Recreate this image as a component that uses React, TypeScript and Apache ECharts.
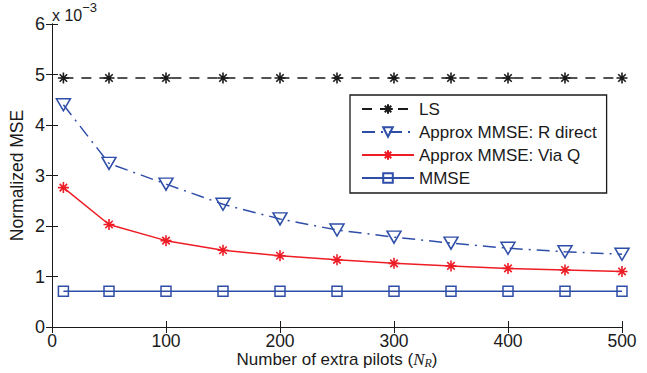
import React, { useEffect, useRef } from "react";
import * as echarts from "echarts";

const pilots = [10, 50, 100, 150, 200, 250, 300, 350, 400, 450, 500];
const lsValues = [4.93, 4.93, 4.93, 4.93, 4.93, 4.93, 4.93, 4.93, 4.93, 4.93, 4.93];
const rDirectValues = [4.4, 3.24, 2.83, 2.43, 2.14, 1.92, 1.78, 1.66, 1.56, 1.49, 1.44];
const viaQValues = [2.76, 2.03, 1.71, 1.52, 1.41, 1.33, 1.26, 1.21, 1.16, 1.13, 1.1];
const mmseValues = [0.71, 0.71, 0.71, 0.71, 0.71, 0.71, 0.71, 0.71, 0.71, 0.71, 0.71];
const seriesNames = ["LS", "Approx MMSE: R direct", "Approx MMSE: Via Q", "MMSE"];

const FONT = "Liberation Sans, Arial, Helvetica, sans-serif";
const TXT = "#1a1a1a";
const BLUE = "#2f4ea8";
const RED = "#ee1c25";
const STAR = "path://M5,0L5,10M0,5L10,5M1.6,1.6L8.4,8.4M1.6,8.4L8.4,1.6";

const pairs = (ys: number[]) => pilots.map((x, i) => [x, ys[i]]);

export default function App() {
  const ref = useRef<HTMLDivElement>(null);
  useEffect(() => {
    if (!ref.current) return;
    const chart = echarts.init(ref.current, undefined, { renderer: "svg" });
    const axisLine = { show: true, lineStyle: { color: TXT, width: 1 } };
    const tick = { show: true, inside: true, length: 6, lineStyle: { color: TXT, width: 1 } };
    chart.setOption({
      animation: false,
      backgroundColor: "#fff",
      textStyle: { fontFamily: FONT },
      grid: { left: 52, right: 25, top: 24, bottom: 46, containLabel: false, outerBoundsMode: "none" },
      xAxis: [
        {
          type: "value",
          min: 0,
          max: 500,
          interval: 100,
          axisLine,
          axisTick: tick,
          splitLine: { show: false },
          axisLabel: { color: TXT, fontSize: 17.5, fontFamily: FONT, margin: 5, lineHeight: 17 },
          name: "{n|Number of extra pilots (}{i|N}{s|R}{n|)}",
          nameLocation: "middle",
          nameGap: 23,
          nameMoveOverlap: false,
          nameTextStyle: {
            rich: {
              n: { fontSize: 17, color: TXT, fontFamily: FONT },
              i: { fontSize: 17, color: TXT, fontFamily: "Liberation Serif, serif", fontStyle: "italic" },
              s: { fontSize: 12, color: TXT, fontFamily: "Liberation Serif, serif", fontStyle: "italic", verticalAlign: "bottom", padding: [7, 0, 0, 0] },
            },
          },
        },
        {
          type: "value",
          position: "top",
          min: 0,
          max: 500,
          interval: 100,
          axisLine,
          axisTick: tick,
          splitLine: { show: false },
          axisLabel: { show: false },
        },
      ],
      yAxis: [
        {
          type: "value",
          min: 0,
          max: 6,
          interval: 1,
          axisLine,
          axisTick: tick,
          splitLine: { show: false },
          axisLabel: { color: TXT, fontSize: 18, fontFamily: FONT, margin: 7 },
          name: "Normalized MSE",
          nameLocation: "middle",
          nameGap: 26,
          nameMoveOverlap: false,
          nameTextStyle: { color: TXT, fontSize: 17.5, fontFamily: FONT },
        },
        {
          type: "value",
          position: "right",
          min: 0,
          max: 6,
          interval: 1,
          axisLine,
          axisTick: tick,
          splitLine: { show: false },
          axisLabel: { show: false },
        },
      ],
      legend: {
        orient: "vertical",
        left: 350,
        top: 95,
        data: seriesNames,
        backgroundColor: "#fff",
        borderColor: TXT,
        borderWidth: 1.3,
        padding: [5, 10, 6, 11],
        itemWidth: 52,
        itemHeight: 12,
        itemGap: 5,
        textStyle: { color: TXT, fontSize: 17, fontFamily: FONT, lineHeight: 18 },
      },
      graphic: [
        {
          type: "text",
          left: 52,
          top: 1,
          style: {
            text: "{a|x 10}{b|−3}",
            rich: {
              a: { fontSize: 16, fontFamily: FONT, fill: TXT, verticalAlign: "bottom", lineHeight: 22 },
              b: { fontSize: 13, fontFamily: FONT, fill: TXT, verticalAlign: "top", lineHeight: 22 },
            },
          },
        },
      ],
      series: [
        {
          name: seriesNames[0],
          type: "line",
          data: pairs(lsValues),
          symbol: STAR,
          symbolSize: 11,
          lineStyle: { color: TXT, width: 1.5, type: [10, 8] },
          itemStyle: { color: TXT, borderColor: TXT, borderWidth: 1.6 },
        },
        {
          name: seriesNames[1],
          type: "line",
          data: pairs(rDirectValues),
          symbol: "triangle",
          symbolRotate: 180,
          symbolSize: [14, 12],
          lineStyle: { color: BLUE, width: 1.5, type: [13, 6, 2, 6] },
          itemStyle: { color: "transparent", borderColor: BLUE, borderWidth: 1.5 },
        },
        {
          name: seriesNames[2],
          type: "line",
          data: pairs(viaQValues),
          symbol: STAR,
          symbolSize: 11,
          lineStyle: { color: RED, width: 1.5 },
          itemStyle: { color: RED, borderColor: RED, borderWidth: 1.6 },
        },
        {
          name: seriesNames[3],
          type: "line",
          data: pairs(mmseValues),
          symbol: "rect",
          symbolSize: 10,
          lineStyle: { color: BLUE, width: 1.5 },
          itemStyle: { color: "transparent", borderColor: BLUE, borderWidth: 1.5 },
        },
      ],
    });
    return () => chart.dispose();
  }, []);
  return <div ref={ref} style={{ width: 647, height: 373, position: "absolute", left: 0, top: 0 }} />;
}
